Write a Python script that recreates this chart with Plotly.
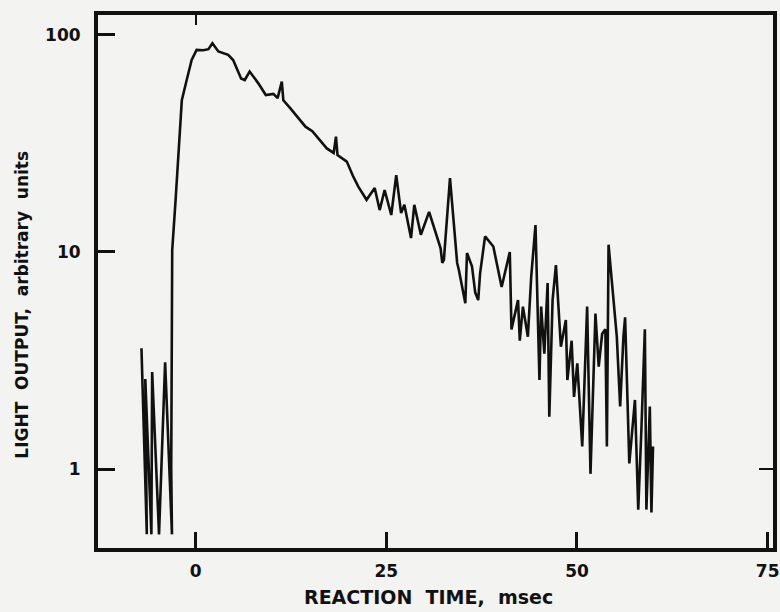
import plotly.graph_objects as go

# Reaction time (msec) and light output (arbitrary units)
time_ms = [
    -7.1, -6.4, -6.6, -5.8, -5.7, -4.8, -4.0, -3.1, -3.2,
    -3.07, -2.63, -2.2, -1.81, -1.17, -0.52, 0.13, 1.0, 1.68, 2.2,
    2.98, 4.27, 4.92, 5.96, 6.44, 7.08, 8.2, 9.2, 10.2, 10.75, 11.3, 11.5,
    12.4, 13.3, 14.4, 15.3, 16.3, 17.2, 18.1, 18.4, 18.6, 19.82,
    20.6, 21.33, 22.41, 23.48, 24.13, 24.78, 25.65, 26.3, 26.94, 27.37,
    28.24, 28.67, 29.53, 30.61, 32.12, 32.34, 32.55, 33.35, 34.29, 34.5,
    35.36, 35.58, 36.23, 36.66, 37.05, 37.3, 37.95, 39.03, 40.12, 41.19, 41.41,
    42.27, 42.5, 42.91, 43.56, 44.0, 44.56, 45.08, 45.3, 45.72, 46.15, 46.37,
    46.8, 47.24, 47.89, 48.54, 48.74, 49.3, 49.61, 50.04, 50.69, 51.33, 51.77, 52.42,
    52.85, 53.3, 53.72, 53.92, 54.14, 54.57, 55.22, 55.66, 56.09, 56.31, 56.86,
    57.6, 58.03, 58.46, 58.9, 59.1, 59.55, 59.76, 59.97,
]
light_output = [
    3.6, 0.5, 2.6, 0.5, 2.8, 0.5, 3.1, 0.5, 1.0,
    10.2, 17.3, 29.5, 50.0, 62.0, 76.7, 85.3, 85.0, 86.0, 91.6,
    84.0, 81.0, 76.6, 63.0, 62.0, 67.8, 60.0, 52.9, 53.5, 51.2, 61.0, 50.0,
    46.0, 42.0, 37.8, 36.0, 32.8, 30.0, 28.6, 34.0, 28.0, 26.1,
    22.5, 20.0, 17.4, 19.7, 15.6, 19.3, 14.8, 22.6, 15.1, 16.5,
    11.6, 16.5, 12.0, 15.3, 10.4, 8.9, 9.2, 21.9, 8.9, 8.3,
    5.8, 9.9, 8.6, 6.5, 6.0, 8.0, 11.8, 10.6, 6.9, 10.0, 4.4,
    6.0, 3.9, 5.6, 4.07, 7.7, 13.3, 2.57, 5.6, 3.4, 7.2, 1.74,
    6.0, 8.7, 3.66, 4.86, 2.57, 3.9, 2.15, 3.07, 1.27, 5.6, 0.95, 5.2,
    2.96, 4.2, 4.4, 1.27, 10.8, 7.2, 4.07, 1.94, 4.07, 5.0, 1.06,
    2.08, 0.65, 1.57, 4.4, 0.65, 1.94, 0.63, 1.27,
]

x_ticks = [0, 25, 50, 75]
y_ticks = [1, 10, 100]
y_tick_labels = ["1", "10", "100"]

x_range = [-12.8, 75.7]
y_log_range = [-0.364, 2.092]

ink = "#111111"
bg = "#f3f3f1"
font_main = "DejaVu Sans"

fig = go.Figure()
fig.add_trace(go.Scatter(
    x=time_ms, y=light_output, mode="lines",
    line=dict(color=ink, width=2.6),
    showlegend=False, hoverinfo="skip",
))
# invisible point so the mirror axes (single top / right ticks) are drawn
fig.add_trace(go.Scatter(
    x=[time_ms[0]], y=[light_output[0]], xaxis="x2", yaxis="y2",
    mode="markers", marker=dict(opacity=0), showlegend=False, hoverinfo="skip",
))

fig.update_layout(
    width=780, height=612,
    margin=dict(l=98, r=7, t=15, b=64),
    paper_bgcolor=bg, plot_bgcolor=bg,
    font=dict(family=font_main, color=ink),
    xaxis=dict(
        range=x_range, tickvals=x_ticks, ticktext=[str(v) for v in x_ticks],
        ticks="inside", ticklen=16, tickwidth=3, tickcolor=ink,
        showline=True, linewidth=4, linecolor=ink, mirror=True,
        showgrid=False, zeroline=False, automargin=False,
        ticklabeloverflow="allow",
        tickfont=dict(size=17, family=font_main, color=ink, weight="bold"),
        ticklabelstandoff=5,
    ),
    yaxis=dict(
        type="log", range=y_log_range, tickvals=y_ticks, ticktext=y_tick_labels,
        ticks="inside", ticklen=17, tickwidth=3, tickcolor=ink,
        showline=True, linewidth=4, linecolor=ink, mirror=True,
        showgrid=False, zeroline=False, automargin=False,
        tickfont=dict(size=17, family=font_main, color=ink, weight="bold"),
        ticklabelstandoff=10,
    ),
    xaxis2=dict(
        overlaying="x", side="top", range=x_range, tickvals=[0],
        ticks="inside", ticklen=10, tickwidth=2, tickcolor=ink, automargin=False,
        showticklabels=False, showgrid=False, zeroline=False, showline=False,
    ),
    yaxis2=dict(
        overlaying="y", side="right", type="log", range=y_log_range, tickvals=[1],
        ticks="inside", ticklen=14, tickwidth=2, tickcolor=ink, automargin=False,
        showticklabels=False, showgrid=False, zeroline=False, showline=False,
    ),
    annotations=[
        dict(text="REACTION  TIME,  msec", xref="paper", yref="paper",
             x=0.49, y=-0.092, showarrow=False, yanchor="middle",
             font=dict(size=19, family=font_main, color=ink, weight="bold")),
        dict(text="LIGHT  OUTPUT,  arbitrary  units", xref="paper", yref="paper",
             x=-0.113, y=0.456, textangle=-90, showarrow=False,
             xanchor="center", yanchor="middle",
             font=dict(size=17, family=font_main, color=ink, weight="bold")),
    ],
)

fig.write_html("out.html", config={"displayModeBar": False},
               post_script="document.body.style.margin='0';")
